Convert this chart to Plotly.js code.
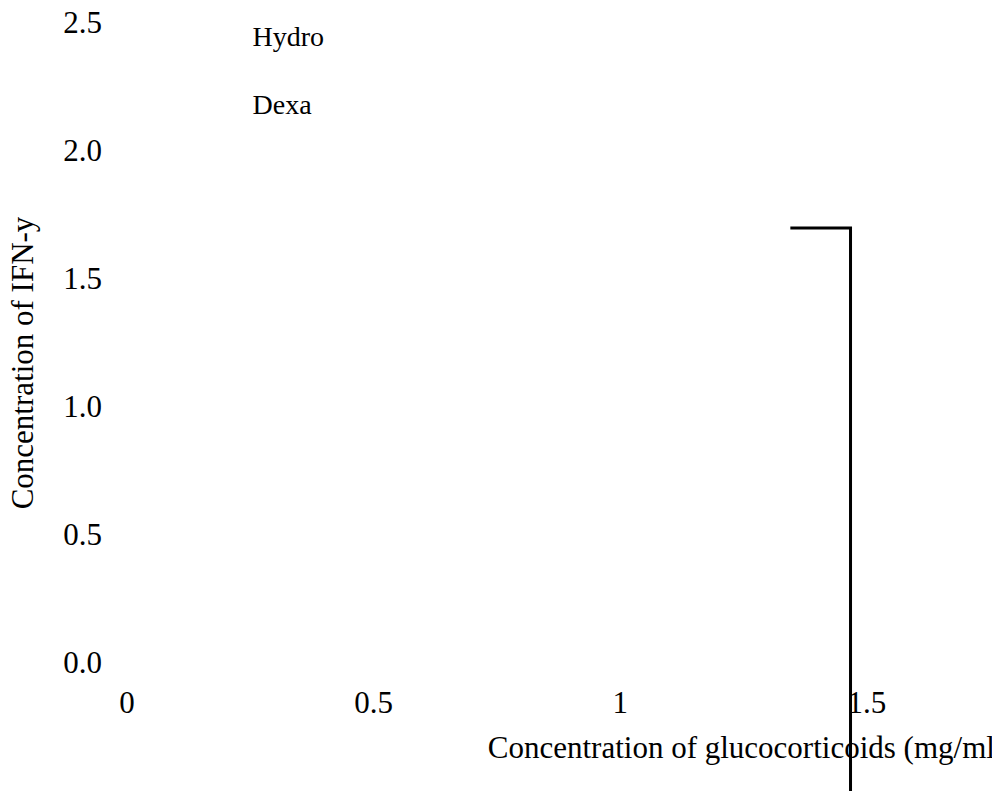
<!DOCTYPE html>
<html>
<head>
<meta charset="utf-8">
<script src="https://cdn.plot.ly/plotly-3.0.1.min.js"></script>
<style>
html, body { margin: 0; padding: 0; overflow: hidden; background: #fff; }
#chart { width: 1378px; height: 791px; }
</style>
</head>
<body>
<div id="chart"></div>
<script>
// ---- data ----
const doseTicks = [0, 0.5, 1, 1.5];
const ifnTicks = [0.0, 0.5, 1.0, 1.5, 2.0, 2.5];
const seriesNames = ["Hydro", "Dexa"];
const hydroIFN = [null, null, null, null];   // no marks visible in the reference
const dexaIFN = [null, null, null, null];    // no marks visible in the reference
const bracketX = [1.345, 1.467, 1.467];
const bracketY = [1.695, 1.695, -0.6];

// ---- geometry ----
const W = 1378, H = 791;
const mL = 127, mR = 12, mT = 22, mB = 0;
const plotW = W - mL - mR;
const plotH = H - mT - mB;
const pxPerUnitX = 493.2;
const pxPerUnitY = 256;
const yZeroPx = 662;       // pixel row of y = 0
const yMainBottomPx = 704; // bottom of main y domain
const mainDomLo = (H - mB - yMainBottomPx) / plotH;
const xAxisPos = (H - mB - yZeroPx) / plotH;
const yMainMin = -(yMainBottomPx - yZeroPx) / pxPerUnitY;
const yFullMin = -(H - mB - yZeroPx) / pxPerUnitY;
const xMax = plotW / pxPerUnitX;

const serif = "Liberation Serif, Times New Roman, serif";

const traces = [
  { type: "scatter", mode: "none", name: seriesNames[0], x: doseTicks, y: hydroIFN,
    xaxis: "x", yaxis: "y", legendgroup: "g1", showlegend: true },
  { type: "scatter", mode: "none", name: seriesNames[1], x: doseTicks, y: dexaIFN,
    xaxis: "x", yaxis: "y", legendgroup: "g2", showlegend: true },
  { type: "scatter", mode: "lines", x: bracketX, y: bracketY, xaxis: "x", yaxis: "y2",
    line: { color: "#000", width: 3 }, showlegend: false, hoverinfo: "skip" }
];

const layout = {
  width: W, height: H,
  margin: { l: mL, r: mR, t: mT, b: mB, pad: 0 },
  paper_bgcolor: "#fff", plot_bgcolor: "rgba(0,0,0,0)",
  font: { family: serif, color: "#000", size: 31 },
  showlegend: true,
  legend: {
    x: 0.069, y: 1.0157, xanchor: "left", yanchor: "top",
    font: { family: serif, size: 28, color: "#000" },
    traceorder: "grouped", tracegroupgap: 29,
    bgcolor: "rgba(0,0,0,0)", borderwidth: 0
  },
  xaxis: {
    anchor: "free", position: xAxisPos,
    range: [0, xMax], tickvals: doseTicks, ticktext: doseTicks.map(String),
    showgrid: false, zeroline: false, showline: false, ticks: "",
    ticklabelstandoff: 19,
    tickfont: { family: serif, size: 31, color: "#000" },
    title: { text: "Concentration of glucocorticoids (mg/ml)", standoff: 17, font: { family: serif, size: 31, color: "#000" } }
  },
  yaxis: {
    domain: [mainDomLo, 1], anchor: "x",
    range: [yMainMin, 2.5], tickvals: ifnTicks, tickformat: ".1f",
    showgrid: false, zeroline: false, showline: false, ticks: "",
    ticklabelstandoff: 24,
    tickfont: { family: serif, size: 31, color: "#000" },
    title: { text: "Concentration of IFN-y", standoff: 20, font: { family: serif, size: 31, color: "#000" } }
  },
  yaxis2: {
    domain: [0, 1], anchor: "x",
    range: [yFullMin, 2.5], visible: false, showgrid: false, zeroline: false
  }
};

Plotly.newPlot("chart", traces, layout, { displayModeBar: false, staticPlot: true });
</script>
</body>
</html>
